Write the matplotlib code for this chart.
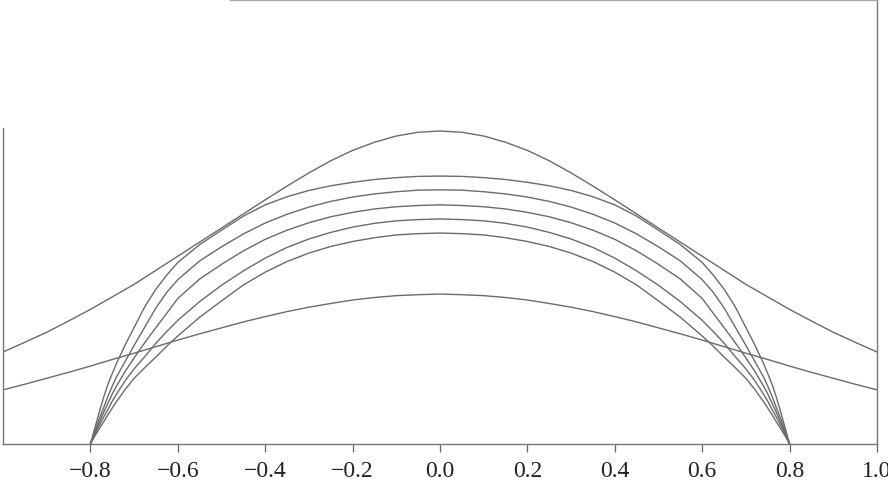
import numpy as np
import matplotlib
matplotlib.use("Agg")
import matplotlib.pyplot as plt

# values (arbitrary y units, tallest peak = 1)
x_wide = [-1.0, -0.95, -0.9, -0.85, -0.8, -0.75, -0.7, -0.65, -0.6, -0.55, -0.5,
          -0.45, -0.4, -0.35, -0.3, -0.25, -0.2, -0.15, -0.1, -0.05, 0.0,
          0.05, 0.1, 0.15, 0.2, 0.25, 0.3, 0.35, 0.4, 0.45, 0.5,
          0.55, 0.6, 0.65, 0.7, 0.75, 0.8, 0.85, 0.9, 0.95, 1.0]
peak_a = [0.294, 0.325, 0.357, 0.393, 0.43, 0.47, 0.51, 0.555, 0.60, 0.645, 0.69,
          0.735, 0.78, 0.824, 0.866, 0.905, 0.938, 0.964, 0.984, 0.996, 1.0,
          0.996, 0.984, 0.964, 0.938, 0.905, 0.866, 0.824, 0.78, 0.735, 0.69,
          0.645, 0.60, 0.555, 0.51, 0.47, 0.43, 0.393, 0.357, 0.325, 0.294]
flat_b = [0.173, 0.191, 0.21, 0.229, 0.249, 0.27, 0.29, 0.311, 0.332, 0.352, 0.371,
          0.39, 0.407, 0.423, 0.437, 0.449, 0.46, 0.468, 0.474, 0.477, 0.479,
          0.477, 0.474, 0.468, 0.46, 0.449, 0.437, 0.423, 0.407, 0.39, 0.371,
          0.352, 0.332, 0.311, 0.29, 0.27, 0.249, 0.229, 0.21, 0.191, 0.173]

x_arc = [-0.8, -0.79, -0.78, -0.77, -0.76, -0.75, -0.74, -0.72, -0.7, -0.675, -0.65,
         -0.625, -0.6, -0.55, -0.5, -0.45, -0.4, -0.35, -0.3, -0.25, -0.2, -0.15,
         -0.1, -0.05, 0.0,
         0.05, 0.1, 0.15, 0.2, 0.25, 0.3, 0.35, 0.4, 0.45, 0.5, 0.55, 0.6,
         0.625, 0.65, 0.675, 0.7, 0.72, 0.74, 0.75, 0.76, 0.77, 0.78, 0.79, 0.8]
arc1 = [0, 0.05, 0.10, 0.148, 0.19, 0.225, 0.258, 0.318, 0.372, 0.44, 0.495,
        0.54, 0.58, 0.637, 0.683, 0.728, 0.764, 0.79, 0.81, 0.825, 0.836, 0.845,
        0.851, 0.855, 0.856,
        0.855, 0.851, 0.845, 0.836, 0.825, 0.81, 0.79, 0.764, 0.728, 0.683, 0.637, 0.58,
        0.54, 0.495, 0.44, 0.372, 0.318, 0.258, 0.225, 0.19, 0.148, 0.10, 0.05, 0]
arc2 = [0, 0.04, 0.08, 0.115, 0.152, 0.185, 0.215, 0.265, 0.315, 0.375, 0.435,
        0.485, 0.525, 0.585, 0.63, 0.671, 0.706, 0.734, 0.757, 0.775, 0.789, 0.799,
        0.806, 0.811, 0.812,
        0.811, 0.806, 0.799, 0.789, 0.775, 0.757, 0.734, 0.706, 0.671, 0.63, 0.585, 0.525,
        0.485, 0.435, 0.375, 0.315, 0.265, 0.215, 0.185, 0.152, 0.115, 0.08, 0.04, 0]
arc3 = [0, 0.035, 0.068, 0.10, 0.13, 0.16, 0.186, 0.233, 0.275, 0.325, 0.372,
        0.418, 0.465, 0.527, 0.574, 0.617, 0.654, 0.683, 0.707, 0.726, 0.74, 0.751,
        0.758, 0.762, 0.764,
        0.762, 0.758, 0.751, 0.74, 0.726, 0.707, 0.683, 0.654, 0.617, 0.574, 0.527, 0.465,
        0.418, 0.372, 0.325, 0.275, 0.233, 0.186, 0.16, 0.13, 0.10, 0.068, 0.035, 0]
arc4 = [0, 0.03, 0.058, 0.085, 0.11, 0.137, 0.16, 0.203, 0.24, 0.28, 0.322,
        0.36, 0.395, 0.455, 0.507, 0.553, 0.594, 0.628, 0.655, 0.676, 0.693, 0.705,
        0.713, 0.717, 0.719,
        0.717, 0.713, 0.705, 0.693, 0.676, 0.655, 0.628, 0.594, 0.553, 0.507, 0.455, 0.395,
        0.36, 0.322, 0.28, 0.24, 0.203, 0.16, 0.137, 0.11, 0.085, 0.058, 0.03, 0]
arc5 = [0, 0.025, 0.048, 0.07, 0.093, 0.115, 0.136, 0.175, 0.21, 0.245, 0.278,
        0.313, 0.345, 0.405, 0.457, 0.508, 0.549, 0.583, 0.61, 0.631, 0.647, 0.659,
        0.668, 0.672, 0.674,
        0.672, 0.668, 0.659, 0.647, 0.631, 0.61, 0.583, 0.549, 0.508, 0.457, 0.405, 0.345,
        0.313, 0.278, 0.245, 0.21, 0.175, 0.136, 0.115, 0.093, 0.07, 0.048, 0.025, 0]

xticks = [-0.8, -0.6, -0.4, -0.2, 0.0, 0.2, 0.4, 0.6, 0.8, 1.0]

line_col = "#6b6b6b"

fig = plt.figure(figsize=(8.88, 4.82), dpi=100)
ax = fig.add_axes([3 / 888, 38 / 482, 874 / 888, 444 / 482])

ax.plot(x_wide, peak_a, color=line_col, lw=1.0)
ax.plot(x_wide, flat_b, color=line_col, lw=1.0)
for arc in [arc1, arc2, arc3, arc4, arc5]:
    ax.plot(x_arc, arc, color=line_col, lw=1.0)

ax.set_xlim(-1.0, 1.0)
ax.set_ylim(0, 444 / 313)

ax.set_xticks(xticks)
ax.set_xticklabels([f"{t:.1f}".replace("-", "\u2212") for t in xticks],
                   fontfamily="Liberation Serif", fontsize=17, color="#222222")
ax.tick_params(axis="x", direction="out", length=6, width=0.9, color="#666666", pad=6)
ax.set_yticks([])

for side in ["bottom", "right", "left", "top"]:
    ax.spines[side].set_color("#777777")
    ax.spines[side].set_linewidth(1.0)
ax.spines["left"].set_bounds(0, (444 - 128) / 313)
ax.spines["top"].set_bounds(-0.48, 1.0)
ax.spines["top"].set_color("#aaaaaa")

fig.savefig("out.png", dpi=100)
